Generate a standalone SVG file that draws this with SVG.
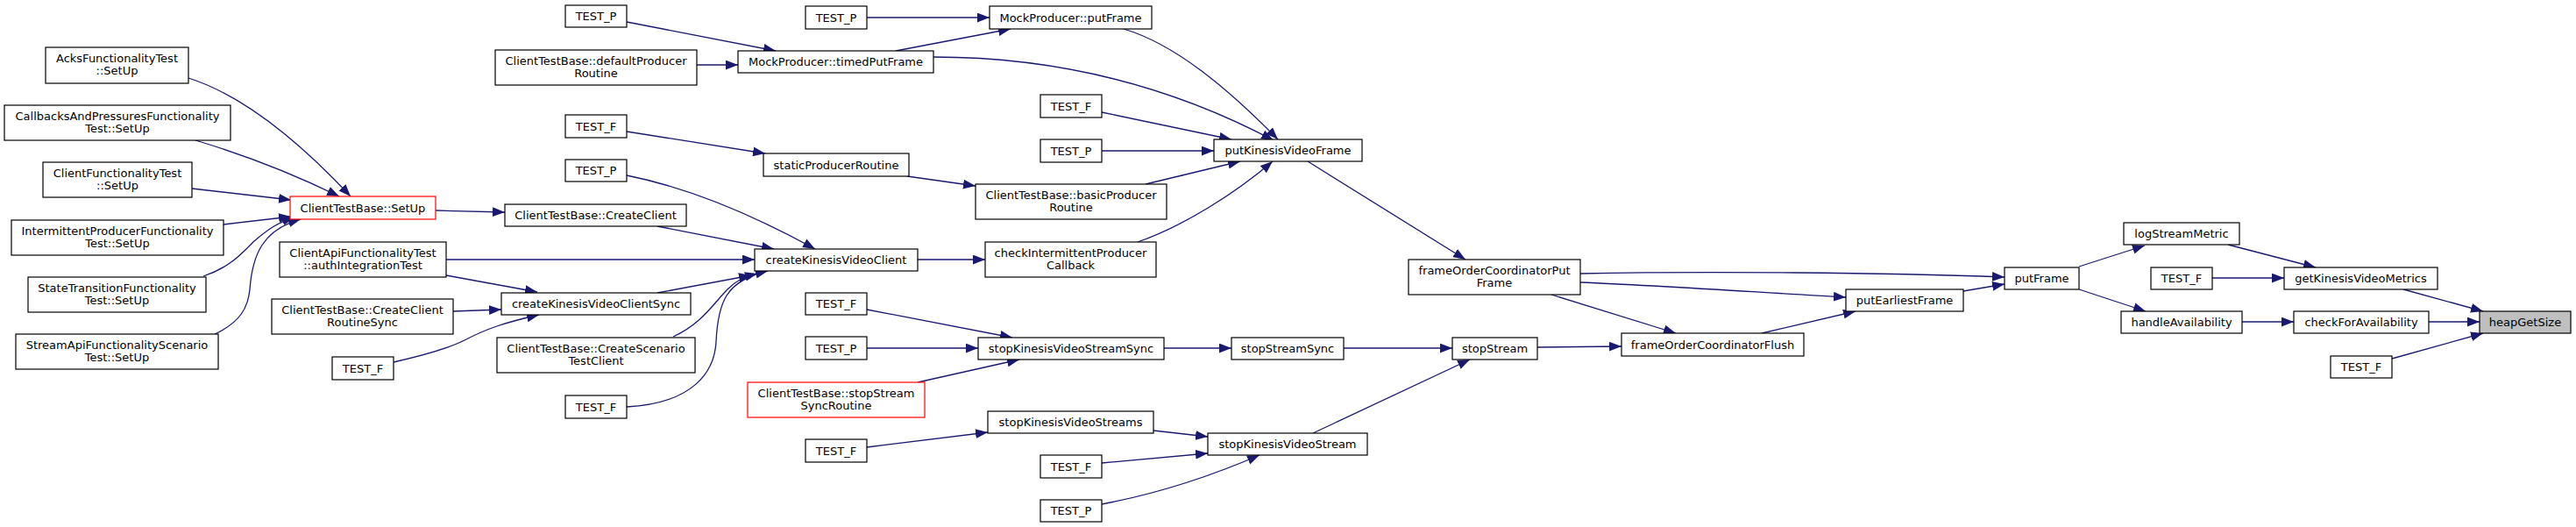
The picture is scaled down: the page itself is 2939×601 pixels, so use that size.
<svg xmlns="http://www.w3.org/2000/svg" width="2939" height="601" viewBox="0 0 2939 601">
<style>
.n rect{fill:#fff;stroke:#000;stroke-width:1.2}
.n.r rect{stroke:#ff0000}
.n.h rect{fill:#bfbfbf}
.n text{font-family:"DejaVu Sans","Liberation Sans",sans-serif;font-size:13px;text-anchor:middle;fill:#000}
#edges path{fill:none;stroke:#191970;stroke-width:1.3;marker-end:url(#ah)}
</style>
<defs>
<marker id="ah" markerUnits="userSpaceOnUse" markerWidth="14" markerHeight="11" viewBox="0 0 13 10" refX="13" refY="5" orient="auto">
<path d="M0,0 L13,5 L0,10 z" fill="#191970"/>
</marker>
</defs>
<rect width="2939" height="601" fill="#fff"/>
<g id="edges">
<path d="M215,89 C275,108 340,160 400,224"/>
<path d="M223,160 C270,174 330,196 387,224"/>
<path d="M219,215 L332,228"/>
<path d="M255,256 L332,247"/>
<path d="M232,315 C262,305 275,290 290,275 C305,262 318,253 336,248"/>
<path d="M245,381 C275,367 283,350 285,330 C288,290 300,262 343,250"/>
<path d="M497,240 L576,242"/>
<path d="M750,258 L883,284"/>
<path d="M509,296 L861,296"/>
<path d="M715,200 C780,213 850,240 930,284"/>
<path d="M509,314 L613,333"/>
<path d="M517,355 L572,353"/>
<path d="M449,413 C480,406 510,398 530,388 C555,375 575,368 615,359"/>
<path d="M750,334 L857,314"/>
<path d="M768,384 C800,370 815,345 830,330 C840,320 848,316 864,312"/>
<path d="M715,464 C790,460 815,425 817,390 C819,345 828,320 876,309"/>
<path d="M715,25 L885,58"/>
<path d="M795,74 L842,74"/>
<path d="M989,20 L1129,20"/>
<path d="M1022,58 L1153,33"/>
<path d="M1065,65 C1200,65 1330,95 1453,160"/>
<path d="M1282,33 C1340,50 1400,100 1458,159"/>
<path d="M715,150 L873,175"/>
<path d="M1035,201 L1113,212"/>
<path d="M1257,128 L1405,159"/>
<path d="M1257,172 L1385,172"/>
<path d="M1307,210 L1415,184"/>
<path d="M1047,296 L1124,296"/>
<path d="M1298,276 C1350,258 1410,220 1452,184"/>
<path d="M1492,184 L1672,296"/>
<path d="M989,353 L1155,385"/>
<path d="M989,397 L1116,397"/>
<path d="M1047,436 L1163,410"/>
<path d="M1328,397 L1405,397"/>
<path d="M1533,397 L1657,397"/>
<path d="M989,510 L1127,493"/>
<path d="M1316,491 L1378,498"/>
<path d="M1257,528 L1378,517"/>
<path d="M1257,575 C1310,565 1370,548 1437,519"/>
<path d="M1498,494 L1677,410"/>
<path d="M1754,396 L1850,395"/>
<path d="M1770,336 L1912,380"/>
<path d="M1803,312 C1950,309 2150,311 2287,316"/>
<path d="M1803,322 C1900,326 2000,333 2106,339"/>
<path d="M2010,380 L2117,355"/>
<path d="M2240,332 L2287,324"/>
<path d="M2372,304 L2447,280"/>
<path d="M2372,330 L2448,355"/>
<path d="M2542,279 L2642,305"/>
<path d="M2524,317 L2606,317"/>
<path d="M2558,367 L2617,367"/>
<path d="M2742,330 L2833,355"/>
<path d="M2771,367 L2829,367"/>
<path d="M2729,409 L2833,380"/>
</g>
<g id="acks" class="n"><rect x="52" y="54" width="163" height="41"/><text x="133.5" y="71">AcksFunctionalityTest</text><text x="133.5" y="85">::SetUp</text></g>
<g id="callbacks" class="n"><rect x="5" y="120" width="258" height="40"/><text x="134" y="137">CallbacksAndPressuresFunctionality</text><text x="134" y="151">Test::SetUp</text></g>
<g id="clientFunc" class="n"><rect x="49" y="185" width="170" height="40"/><text x="134" y="202">ClientFunctionalityTest</text><text x="134" y="216">::SetUp</text></g>
<g id="intermittent" class="n"><rect x="13" y="251" width="242" height="40"/><text x="134" y="268">IntermittentProducerFunctionality</text><text x="134" y="282">Test::SetUp</text></g>
<g id="stateTrans" class="n"><rect x="32" y="316" width="203" height="40"/><text x="133.5" y="333">StateTransitionFunctionality</text><text x="133.5" y="347">Test::SetUp</text></g>
<g id="streamApi" class="n"><rect x="18" y="381" width="231" height="40"/><text x="133.5" y="398">StreamApiFunctionalityScenario</text><text x="133.5" y="412">Test::SetUp</text></g>
<g id="setUp" class="n r"><rect x="331" y="224" width="166" height="26"/><text x="414" y="241.5">ClientTestBase::SetUp</text></g>
<g id="authInt" class="n"><rect x="319" y="276" width="190" height="40"/><text x="414" y="293">ClientApiFunctionalityTest</text><text x="414" y="307">::authIntegrationTest</text></g>
<g id="createClientRoutineSync" class="n"><rect x="310" y="341" width="207" height="40"/><text x="413.5" y="358">ClientTestBase::CreateClient</text><text x="413.5" y="372">RoutineSync</text></g>
<g id="testF_a" class="n"><rect x="379" y="407" width="70" height="26"/><text x="414" y="424.5">TEST_F</text></g>
<g id="testP_a" class="n"><rect x="645" y="6" width="70" height="25"/><text x="680" y="23">TEST_P</text></g>
<g id="defaultProducer" class="n"><rect x="565" y="57" width="230" height="40"/><text x="680" y="74">ClientTestBase::defaultProducer</text><text x="680" y="88">Routine</text></g>
<g id="testF_b" class="n"><rect x="645" y="131" width="70" height="26"/><text x="680" y="148.5">TEST_F</text></g>
<g id="testP_b" class="n"><rect x="645" y="182" width="70" height="25"/><text x="680" y="199">TEST_P</text></g>
<g id="createClient" class="n"><rect x="576" y="233" width="207" height="25"/><text x="679.5" y="250">ClientTestBase::CreateClient</text></g>
<g id="clientSync" class="n"><rect x="572" y="334" width="216" height="25"/><text x="680" y="351">createKinesisVideoClientSync</text></g>
<g id="createScenario" class="n"><rect x="567" y="385" width="226" height="40"/><text x="680" y="402">ClientTestBase::CreateScenario</text><text x="680" y="416">TestClient</text></g>
<g id="testF_c" class="n"><rect x="645" y="451" width="70" height="26"/><text x="680" y="468.5">TEST_F</text></g>
<g id="timedPutFrame" class="n"><rect x="842" y="58" width="223" height="25"/><text x="953.5" y="75">MockProducer::timedPutFrame</text></g>
<g id="testP_c" class="n"><rect x="919" y="7" width="70" height="26"/><text x="954" y="24.5">TEST_P</text></g>
<g id="staticProducer" class="n"><rect x="871" y="175" width="166" height="26"/><text x="954" y="192.5">staticProducerRoutine</text></g>
<g id="createKVC" class="n"><rect x="861" y="284" width="186" height="25"/><text x="954" y="301">createKinesisVideoClient</text></g>
<g id="testF_d" class="n"><rect x="919" y="334" width="70" height="25"/><text x="954" y="351">TEST_F</text></g>
<g id="testP_d" class="n"><rect x="919" y="384" width="70" height="26"/><text x="954" y="401.5">TEST_P</text></g>
<g id="stopStreamSyncRoutine" class="n r"><rect x="853" y="436" width="202" height="40"/><text x="954" y="453">ClientTestBase::stopStream</text><text x="954" y="467">SyncRoutine</text></g>
<g id="testF_e" class="n"><rect x="919" y="501" width="70" height="26"/><text x="954" y="518.5">TEST_F</text></g>
<g id="mockPutFrame" class="n"><rect x="1129" y="7" width="185" height="26"/><text x="1221.5" y="24.5">MockProducer::putFrame</text></g>
<g id="testF_f" class="n"><rect x="1187" y="108" width="70" height="26"/><text x="1222" y="125.5">TEST_F</text></g>
<g id="testP_f" class="n"><rect x="1187" y="159" width="70" height="26"/><text x="1222" y="176.5">TEST_P</text></g>
<g id="basicProducer" class="n"><rect x="1113" y="210" width="218" height="40"/><text x="1222" y="227">ClientTestBase::basicProducer</text><text x="1222" y="241">Routine</text></g>
<g id="checkIntermittent" class="n"><rect x="1124" y="276" width="195" height="40"/><text x="1221.5" y="293">checkIntermittentProducer</text><text x="1221.5" y="307">Callback</text></g>
<g id="stopKVSSync" class="n"><rect x="1116" y="385" width="212" height="25"/><text x="1222" y="402">stopKinesisVideoStreamSync</text></g>
<g id="stopKVStreams" class="n"><rect x="1127" y="469" width="189" height="25"/><text x="1221.5" y="486">stopKinesisVideoStreams</text></g>
<g id="testF_g" class="n"><rect x="1187" y="519" width="70" height="26"/><text x="1222" y="536.5">TEST_F</text></g>
<g id="testP_g" class="n"><rect x="1187" y="570" width="70" height="25"/><text x="1222" y="587">TEST_P</text></g>
<g id="putKVF" class="n"><rect x="1385" y="159" width="169" height="25"/><text x="1469.5" y="176">putKinesisVideoFrame</text></g>
<g id="stopStreamSync" class="n"><rect x="1405" y="385" width="128" height="25"/><text x="1469" y="402">stopStreamSync</text></g>
<g id="stopKVStream" class="n"><rect x="1378" y="494" width="182" height="25"/><text x="1469" y="511">stopKinesisVideoStream</text></g>
<g id="frameOrderPutFrame" class="n"><rect x="1607" y="296" width="196" height="40"/><text x="1705" y="313">frameOrderCoordinatorPut</text><text x="1705" y="327">Frame</text></g>
<g id="stopStream" class="n"><rect x="1657" y="385" width="97" height="25"/><text x="1705.5" y="402">stopStream</text></g>
<g id="flush" class="n"><rect x="1850" y="380" width="208" height="26"/><text x="1954" y="397.5">frameOrderCoordinatorFlush</text></g>
<g id="putEarliest" class="n"><rect x="2106" y="330" width="134" height="25"/><text x="2173" y="347">putEarliestFrame</text></g>
<g id="putFrame" class="n"><rect x="2287" y="305" width="85" height="25"/><text x="2329.5" y="322">putFrame</text></g>
<g id="logStreamMetric" class="n"><rect x="2423" y="254" width="132" height="25"/><text x="2489" y="271">logStreamMetric</text></g>
<g id="testF_h" class="n"><rect x="2454" y="305" width="70" height="25"/><text x="2489" y="322">TEST_F</text></g>
<g id="handleAvail" class="n"><rect x="2420" y="355" width="138" height="25"/><text x="2489" y="372">handleAvailability</text></g>
<g id="getKVM" class="n"><rect x="2606" y="305" width="175" height="25"/><text x="2693.5" y="322">getKinesisVideoMetrics</text></g>
<g id="checkForAvail" class="n"><rect x="2617" y="355" width="154" height="25"/><text x="2694" y="372">checkForAvailability</text></g>
<g id="testF_i" class="n"><rect x="2659" y="406" width="70" height="25"/><text x="2694" y="423">TEST_F</text></g>
<g id="heapGetSize" class="n h"><rect x="2829" y="355" width="104" height="25"/><text x="2881" y="372">heapGetSize</text></g>
</svg>
